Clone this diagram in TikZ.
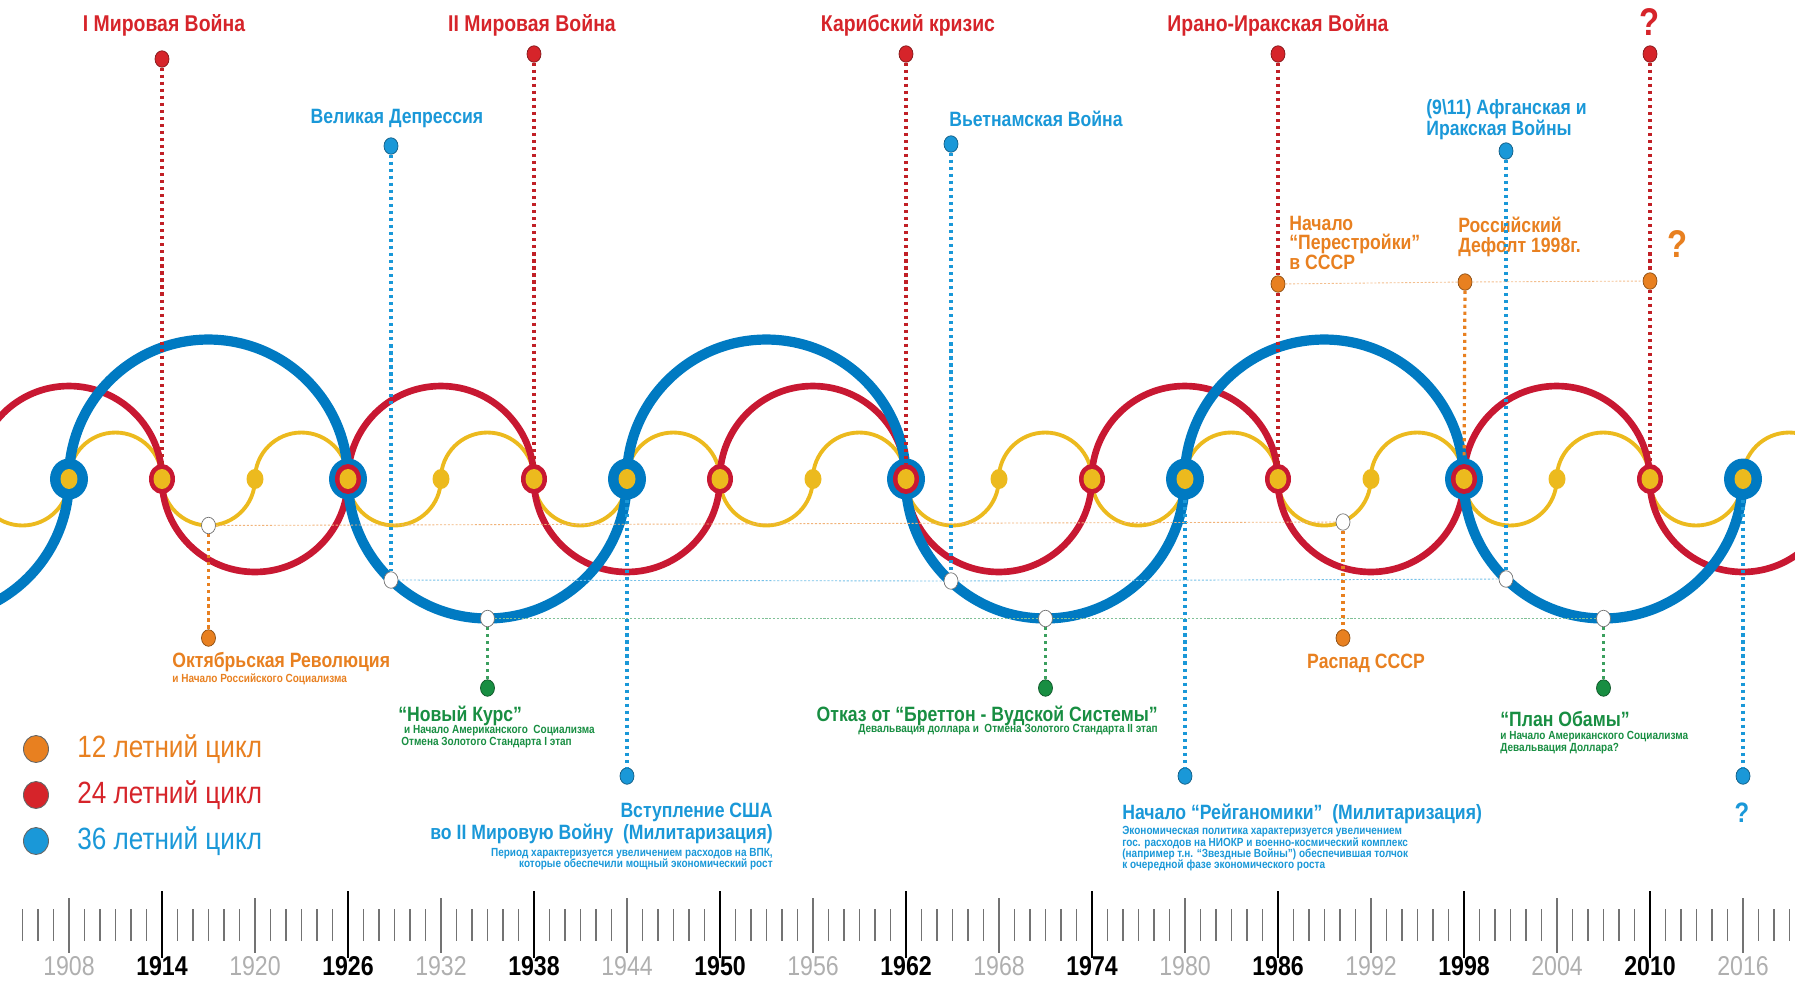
\documentclass[tikz,border=0pt]{standalone}
\usepackage{fontspec}
\setmainfont{Liberation Sans}
\newfontfamily\narrowfont{Liberation Sans}[FakeStretch=0.85]
\usetikzlibrary{shapes.geometric}
\definecolor{cred}{RGB}{200,24,50}
\definecolor{cblue}{RGB}{0,122,194}
\definecolor{cyellow}{RGB}{236,186,30}
\definecolor{corange}{RGB}{232,128,32}
\definecolor{cgreen}{RGB}{24,142,66}
\definecolor{tred}{RGB}{214,36,42}
\definecolor{tblue}{RGB}{26,152,216}
\definecolor{tgray}{RGB}{175,175,175}
\tikzstyle{yellowcurve} = [draw=cyellow, line width=2.2pt]
\tikzstyle{redcurve} = [draw=cred, line width=3.8pt]
\tikzstyle{bluecurve} = [draw=cblue, line width=5.8pt]
\tikzstyle{bigdot} = [ellipse, fill=cblue, minimum width=0.76cm, minimum height=0.82cm, inner sep=0pt]
\tikzstyle{middot} = [ellipse, fill=cred, minimum width=0.52cm, minimum height=0.6cm, inner sep=0pt]
\tikzstyle{smalldot} = [ellipse, fill=cyellow, minimum width=0.34cm, minimum height=0.4cm, inner sep=0pt]
\tikzstyle{evdot} = [ellipse, minimum width=0.28cm, minimum height=0.33cm, inner sep=0pt, line width=0.4pt]
\tikzstyle{reddot} = [evdot, fill=tred, draw=tred!60!black]
\tikzstyle{bluedot} = [evdot, fill=tblue, draw=tblue!60!black]
\tikzstyle{orangedot} = [evdot, fill=corange, draw=corange!60!black]
\tikzstyle{greendot} = [evdot, fill=cgreen, draw=cgreen!60!black]
\tikzstyle{whitedot} = [evdot, fill=white, draw=black!55]
\tikzstyle{legenddot} = [ellipse, minimum width=0.5cm, minimum height=0.54cm, inner sep=0pt, draw=black!60, line width=0.5pt]
\tikzstyle{redlink} = [draw=tred!90!black, line width=1.8pt, dash pattern=on 1.8pt off 2.2pt]
\tikzstyle{bluelink} = [draw=tblue, line width=1.8pt, dash pattern=on 1.8pt off 2.2pt]
\tikzstyle{orangelink} = [draw=corange, line width=1.8pt, dash pattern=on 1.8pt off 2.2pt]
\tikzstyle{greenlink} = [draw=cgreen!85, line width=1.8pt, dash pattern=on 1.8pt off 2.2pt]
\tikzstyle{faintlink} = [line width=0.5pt, dash pattern=on 1.2pt off 1pt]
\tikzstyle{headline} = [inner sep=0pt, text=tred, font=\narrowfont\fontsize{13}{15}\selectfont\bfseries]
\tikzstyle{eventtext} = [inner sep=0pt, font=\narrowfont\fontsize{11.8}{11}\selectfont\bfseries]
\tikzstyle{smalltext} = [inner sep=0pt, font=\narrowfont\fontsize{6.7}{6.5}\selectfont\bfseries]
\tikzstyle{query} = [inner sep=0pt, font=\narrowfont\fontsize{22}{24}\selectfont\bfseries]
\tikzstyle{legendtext} = [inner sep=0pt, anchor=west, font=\narrowfont\fontsize{17.5}{19}\selectfont]
\tikzstyle{yearbold} = [inner sep=0pt, font=\narrowfont\fontsize{15.5}{17}\selectfont\bfseries]
\tikzstyle{yearlight} = [inner sep=0pt, text=tgray, font=\narrowfont\fontsize{15.5}{17}\selectfont]
\tikzstyle{minortick} = [draw=black!55, line width=0.7pt]
\tikzstyle{lighttick} = [draw=black!55, line width=0.8pt]
\tikzstyle{boldtick} = [draw=black, line width=0.8pt]

\begin{document}
\begin{tikzpicture}[x=0.02cm, y=-0.02cm]
\useasboundingbox (0,0) rectangle (1795,981);
\draw [yellowcurve] (-24,479) foreach \i in {1,...,10} {arc [start angle=180, end angle=360, radius=0.93cm] arc [start angle=180, end angle=0, radius=0.93cm]};
\draw [redcurve] (-24,479) foreach \i in {1,...,5} {arc [start angle=180, end angle=0, radius=1.86cm] arc [start angle=180, end angle=360, radius=1.86cm]};
\draw [bluecurve] (-210,479) arc [start angle=180, end angle=360, radius=2.79cm] foreach \i in {1,...,3} {arc [start angle=180, end angle=0, radius=2.79cm] arc [start angle=180, end angle=360, radius=2.79cm]};
\foreach \yr in {1908,1926,...,2016} \node (b\yr) [bigdot] at ({162+15.5*(\yr-1914)},479) {};
\foreach \yr in {1914,1926,...,2010} \node (r\yr) [middot] at ({162+15.5*(\yr-1914)},479) {};
\foreach \yr in {1908,1914,...,2016} \node (y\yr) [smalldot] at ({162+15.5*(\yr-1914)},479) {};

\node (war1) [reddot] at (162,59) {};
\node (war1txt) [headline] at (164,25) {I Мировая Война};
\node (war2) [reddot] at (534,54) {};
\node (war2txt) [headline] at (532,25) {II Мировая Война};
\node (crisis) [reddot] at (906,54) {};
\node (crisistxt) [headline] at (908,25) {Карибский кризис};
\node (iran) [reddot] at (1278,54) {};
\node (irantxt) [headline] at (1278,25) {Ирано-Иракская Война};
\node (qred) [reddot] at (1650,54) {};
\node (qredtxt) [query, text=tred] at (1650,22) {?};

\node (dep) [bluedot] at (391,146) {};
\node (deptxt) [eventtext, text=tblue] at (397,119) {Великая Депрессия};
\node (wdep) [whitedot] at (391,580) {};
\node (viet) [bluedot] at (951,144) {};
\node (viettxt) [eventtext, text=tblue] at (1036,119) {Вьетнамская Война};
\node (wviet) [whitedot] at (951,581) {};
\node (afg) [bluedot] at (1506,151) {};
\node (afgtxt) [eventtext, text=tblue, anchor=north west, align=left] at (1426,99) {(9\textbackslash 11) Афганская и\\Иракская Войны};
\node (wafg) [whitedot] at (1506,579) {};

\node (usa) [bluedot] at (627,776) {};
\node (usatxt) [eventtext, text=tblue, anchor=north east, align=right] at (773,803) {Вступление США\\во II Мировую Войну\ \ (Милитаризация)};
\node (usanote) [smalltext, text=tblue, anchor=north east, align=right] at (773,848) {Период характеризуется увеличением расходов на ВПК,\\которые обеспечили мощный экономический рост};
\node (reagan) [bluedot] at (1185,776) {};
\node (reagantxt) [eventtext, text=tblue, anchor=west] at (1122,814) {Начало “Рейганомики”\ \ (Милитаризация)};
\node (reagannote) [smalltext, text=tblue, anchor=north west, align=left] at (1122,826) {Экономическая политика характеризуется увеличением\\гос. расходов на НИОКР и военно-космический комплекс\\(например т.н. “Звездные Войны”) обеспечившая толчок\\к очередной фазе экономического роста};
\node (qblue) [bluedot] at (1743,776) {};
\node (qbluetxt) [query, text=tblue, font=\narrowfont\fontsize{16}{18}\selectfont\bfseries] at (1742,813) {?};

\node (wnew) [whitedot] at (487.5,618.5) {};
\node (newdeal) [greendot] at (487.5,688) {};
\node (newdealtxt) [eventtext, text=cgreen, anchor=west] at (398,715.5) {“Новый Курс”};
\node (newdealnote) [smalltext, text=cgreen, anchor=north west, align=left] at (401,725) {\ и Начало Американского\ \ Социализма\\Отмена Золотого Стандарта I этап};
\node (wbw) [whitedot] at (1045.5,618.5) {};
\node (bw) [greendot] at (1045.5,688) {};
\node (bwtxt) [eventtext, text=cgreen, anchor=east] at (1158,715.5) {Отказ от “Бреттон - Вудской Системы”};
\node (bwnote) [smalltext, text=cgreen, anchor=east] at (1158,730) {Девальвация доллара и\ \ Отмена Золотого Стандарта II этап};
\node (wob) [whitedot] at (1603.5,618.5) {};
\node (obama) [greendot] at (1603.5,688) {};
\node (obamatxt) [eventtext, text=cgreen, anchor=west] at (1500,719) {“План Обамы”};
\node (obamanote) [smalltext, text=cgreen, anchor=north west, align=left] at (1500,731) {и Начало Американского Социализма\\Девальвация Доллара?};

\node (woct) [whitedot] at (208.5,525.5) {};
\node (oct) [orangedot] at (208.5,638) {};
\node (octtxt) [eventtext, text=corange, anchor=west] at (172,662) {Октябрьская Революция};
\node (octnote) [smalltext, text=corange, anchor=west] at (172,679) {и Начало Российского Социализма};
\node (wussr) [whitedot] at (1343,522) {};
\node (ussr) [orangedot] at (1343,638) {};
\node (ussrtxt) [eventtext, text=corange] at (1366,663) {Распад СССР};
\node (per) [orangedot] at (1278,284) {};
\node (pertxt) [eventtext, text=corange, anchor=north west, align=left] at (1289,216) {Начало\\“Перестройки”\\в СССР};
\node (deflt) [orangedot] at (1465,282) {};
\node (defltxt) [eventtext, text=corange, anchor=north west, align=left] at (1458,217) {Российский\\Дефолт 1998г.};
\node (qorange) [orangedot] at (1650,281) {};
\node (qorangetxt) [query, text=corange] at (1678,244) {?};

\draw [redlink] (war1) -- (r1914);
\draw [redlink] (war2) -- (r1938);
\draw [redlink] (crisis) -- (r1962);
\draw [redlink] (iran) -- (per) -- (r1986);
\draw [redlink] (qred) -- (qorange) -- (r2010);
\draw [bluelink] (dep) -- (wdep);
\draw [bluelink] (viet) -- (wviet);
\draw [bluelink] (afg) -- (wafg);
\draw [bluelink] (b1944) -- (usa);
\draw [bluelink] (b1980) -- (reagan);
\draw [bluelink] (b2016) -- (qblue);
\draw [faintlink, draw=tblue!60] (wdep) -- (wviet) -- (wafg);
\draw [greenlink] (wnew) -- (newdeal);
\draw [greenlink] (wbw) -- (bw);
\draw [greenlink] (wob) -- (obama);
\draw [faintlink, draw=cgreen!55] (wnew) -- (wbw) -- (wob);
\draw [orangelink] (woct) -- (oct);
\draw [orangelink] (wussr) -- (ussr);
\draw [orangelink] (deflt) -- (b1998);
\draw [faintlink, draw=corange!60] (woct) -- (wussr);
\draw [faintlink, draw=corange!50] (per) -- (deflt) -- (qorange);

\node (leg1) [legenddot, fill=corange] at (36,749) {};
\node (leg1txt) [legendtext, text=corange] at (77,749) {12 летний цикл};
\node (leg2) [legenddot, fill=tred] at (36,795) {};
\node (leg2txt) [legendtext, text=tred] at (77,795) {24 летний цикл};
\node (leg3) [legenddot, fill=tblue] at (36,841) {};
\node (leg3txt) [legendtext, text=tblue] at (77,841) {36 летний цикл};

\foreach \yr in {1905,...,2019} \draw [minortick] ({162+15.5*(\yr-1914)},909) -- ++(0,32);
\foreach \yr in {1908,1920,...,2016} {
  \draw [lighttick] ({162+15.5*(\yr-1914)},898) -- ++(0,55);
  \node (yl\yr) [yearlight] at ({162+15.5*(\yr-1914)},966) {\yr};
}
\foreach \yr in {1914,1926,...,2010} {
  \draw [boldtick] ({162+15.5*(\yr-1914)},891) -- ++(0,67);
  \node (yb\yr) [yearbold] at ({162+15.5*(\yr-1914)},966) {\yr};
}
\end{tikzpicture}
\end{document}
